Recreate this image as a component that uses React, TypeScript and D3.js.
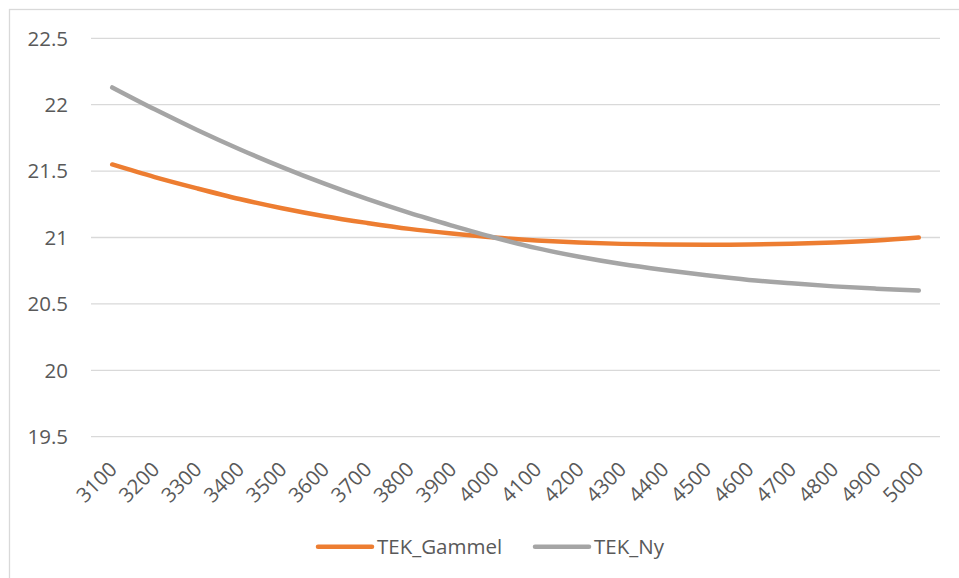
import React, { useRef, useEffect } from 'react'
import * as d3 from 'd3'

const categories = [
  '3100', '3200', '3300', '3400', '3500', '3600', '3700', '3800', '3900', '4000',
  '4100', '4200', '4300', '4400', '4500', '4600', '4700', '4800', '4900', '5000',
]
const tekGammel = [
  21.55, 21.455, 21.37, 21.29, 21.22, 21.16, 21.11, 21.065, 21.03, 21.0,
  20.978, 20.962, 20.952, 20.947, 20.945, 20.947, 20.953, 20.963, 20.978, 21.0,
]
const tekNy = [
  22.13, 21.965, 21.81, 21.665, 21.53, 21.405, 21.29, 21.185, 21.09, 21.0,
  20.92, 20.855, 20.8, 20.755, 20.715, 20.68, 20.655, 20.632, 20.615, 20.6,
]
const yTicks = [19.5, 20, 20.5, 21, 21.5, 22, 22.5]

const SERIES = [
  { name: 'TEK_Gammel', values: tekGammel, color: '#ED7D31' },
  { name: 'TEK_Ny', values: tekNy, color: '#A5A5A5' },
]

const W = 959
const H = 578
const FONT = '"Open Sans", sans-serif'
const FS = 20.5

export default function App() {
  const svgRef = useRef<SVGSVGElement | null>(null)

  useEffect(() => {
    if (!svgRef.current) return
    const svg = d3.select(svgRef.current)
    svg.selectAll('*').remove()

    // chart area border
    svg.append('rect')
      .attr('x', 9.5).attr('y', 9.5)
      .attr('width', W + 20).attr('height', H + 20)
      .attr('fill', '#fff')
      .attr('stroke', '#D9D9D9')
      .attr('stroke-width', 1.3)

    const left = 91
    const right = 940
    const top = 38.3
    const bottom = 436.7

    const x = d3.scaleBand().domain(categories).range([left, right])
    const y = d3.scaleLinear().domain([19.5, 22.5]).range([bottom, top])

    // gridlines
    svg.append('g')
      .selectAll('line')
      .data(yTicks)
      .join('line')
      .attr('x1', left).attr('x2', right)
      .attr('y1', (d) => y(d)).attr('y2', (d) => y(d))
      .attr('stroke', '#D9D9D9')
      .attr('stroke-width', 1.3)

    // y labels
    svg.append('g')
      .selectAll('text')
      .data(yTicks)
      .join('text')
      .attr('x', 68)
      .attr('y', (d) => y(d))
      .attr('dy', '0.36em')
      .attr('text-anchor', 'end')
      .attr('font-family', FONT)
      .attr('font-size', FS)
      .attr('fill', '#595959')
      .text((d) => String(d))

    // x labels, rotated
    const cx = (c: string) => (x(c) ?? 0) + x.bandwidth() / 2
    svg.append('g')
      .selectAll('text')
      .data(categories)
      .join('text')
      .attr('transform', (d) => `translate(${cx(d) + 6},${bottom + 34}) rotate(-45)`)
      .attr('text-anchor', 'end')
      .attr('font-family', FONT)
      .attr('font-size', FS)
      .attr('fill', '#595959')
      .text((d) => d)

    const line = d3.line<number>()
      .x((_, i) => cx(categories[i]))
      .y((d) => y(d))
      .curve(d3.curveCatmullRom.alpha(0.5))

    SERIES.forEach((s) => {
      svg.append('path')
        .datum(s.values)
        .attr('d', line)
        .attr('fill', 'none')
        .attr('stroke', s.color)
        .attr('stroke-width', 4.5)
        .attr('stroke-linecap', 'round')
        .attr('stroke-linejoin', 'round')
    })

    // legend
    const legendY = 546.7
    const items = [
      { x1: 318, x2: 372, tx: 377 },
      { x1: 535, x2: 589, tx: 594 },
    ]
    SERIES.forEach((s, i) => {
      const it = items[i]
      svg.append('line')
        .attr('x1', it.x1).attr('x2', it.x2)
        .attr('y1', legendY).attr('y2', legendY)
        .attr('stroke', s.color)
        .attr('stroke-width', 4.5)
        .attr('stroke-linecap', 'round')
      svg.append('text')
        .attr('x', it.tx)
        .attr('y', legendY)
        .attr('dy', '0.36em')
        .attr('font-family', FONT)
        .attr('font-size', FS)
        .attr('fill', '#595959')
        .text(s.name)
    })
  }, [])

  return (
    <svg
      ref={svgRef}
      width={W}
      height={H}
      style={{ position: 'absolute', left: 0, top: 0, background: '#fff' }}
    />
  )
}
